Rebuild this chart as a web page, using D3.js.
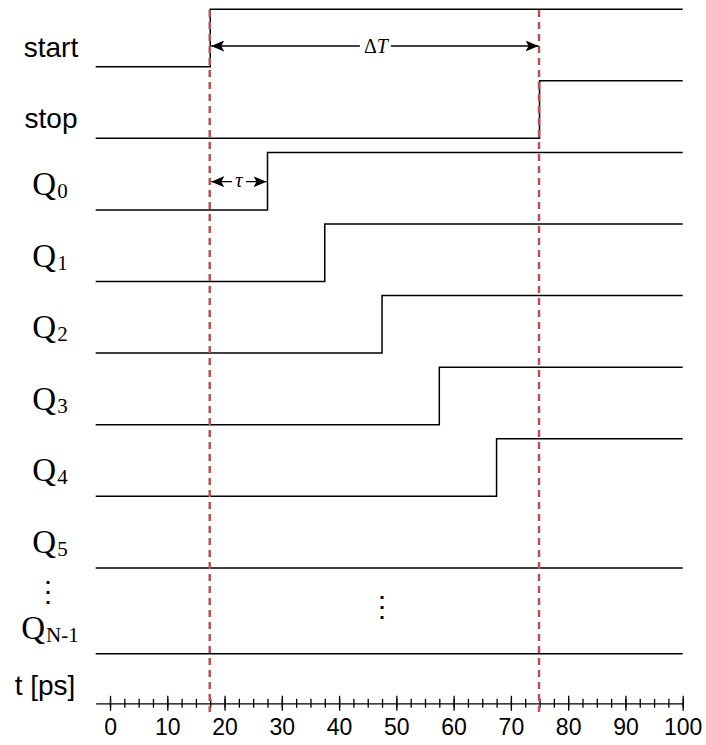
<!DOCTYPE html>
<html>
<head>
<meta charset="utf-8">
<script src="https://cdn.jsdelivr.net/npm/d3@7"></script>
<style>
  body { margin: 0; background: #fff; }
  .sig { fill: none; stroke: #000; stroke-width: 1.5; }
  .lbl-sans { font-family: Arial, "Liberation Sans", sans-serif; font-size: 28px; }
  .lbl-serif { font-family: "Liberation Serif", "DejaVu Serif", serif; font-size: 33px; }
  .axis text { font-family: Arial, "Liberation Sans", sans-serif; font-size: 23px; fill: #000; }
  .axis line, .axis path { stroke: #000; stroke-width: 1.3; }
</style>
</head>
<body>
<div class="chart"></div>
<script>
const W = 706, H = 745;

// signals, top to bottom
const signalNames = ["start", "stop", "Q", "Q", "Q", "Q", "Q", "Q", "Q"];
const signalSubs = ["", "", "0", "1", "2", "3", "4", "5", "N-1"];
// time (ps) of the rising edge; null = stays low
const edgeTimes = [17.5, 75, 27.5, 37.5, 47.5, 57.5, 67.5, null, null];
const startTime = 17.5;
const stopTime = 75;
const tau = 10;
const majorTicks = d3.range(0, 101, 10);
const minorTicks = d3.range(0, 100.1, 2.5);

const x = d3.scaleLinear().domain([-2.5, 100]).range([95.7, 682.7]);
// row index -> low level y; last row sits a bit further down
const rowIndex = [0, 1, 2, 3, 4, 5, 6, 7, 8.2];
const y = d3.scaleLinear().domain([0, 1]).range([66.7, 138.3]);
const highOffset = 57.5;

const svg = d3.select(".chart").append("svg")
  .attr("width", W).attr("height", H);

const defs = svg.append("defs");
["end", "start"].forEach(function(k) {
  defs.append("marker")
    .attr("id", "arrow-" + k)
    .attr("viewBox", "0 0 13 11")
    .attr("refX", k === "end" ? 13 : 0).attr("refY", 5.5)
    .attr("markerWidth", 13).attr("markerHeight", 11)
    .attr("markerUnits", "userSpaceOnUse")
    .attr("orient", "auto")
    .append("path")
    .attr("d", k === "end" ? "M0,0 L13,5.5 L0,11 L3,5.5 Z" : "M13,0 L0,5.5 L13,11 L10,5.5 Z")
    .attr("fill", "#000");
});

// waveforms
const rows = svg.append("g").selectAll("g")
  .data(signalNames.map(function(n, i) {
    return { name: n, sub: signalSubs[i], t: edgeTimes[i], yLow: y(rowIndex[i]) };
  }))
  .enter().append("g");

rows.append("path")
  .attr("class", "sig")
  .attr("d", function(d) {
    const p = d3.path();
    p.moveTo(x(-2.5), d.yLow);
    if (d.t === null) {
      p.lineTo(x(100), d.yLow);
    } else {
      p.lineTo(x(d.t), d.yLow);
      p.lineTo(x(d.t), d.yLow - highOffset);
      p.lineTo(x(100), d.yLow - highOffset);
    }
    return p.toString();
  });

// labels
rows.filter(function(d) { return d.sub === ""; })
  .append("text")
  .attr("class", "lbl-sans")
  .attr("x", 51).attr("y", function(d) { return d.yLow - 10; })
  .attr("text-anchor", "middle")
  .text(function(d) { return d.name; });

const qLbl = rows.filter(function(d) { return d.sub !== ""; })
  .append("text")
  .attr("class", "lbl-serif")
  .attr("x", 50).attr("y", function(d) { return d.yLow - 15; })
  .attr("text-anchor", "middle");
qLbl.append("tspan").text(function(d) { return d.name; });
qLbl.append("tspan")
  .attr("font-size", "21px")
  .attr("dx", 1)
  .attr("dy", 3)
  .text(function(d) { return d.sub; });

// vertical dots
svg.append("text").attr("class", "lbl-serif")
  .attr("x", 48).attr("y", 601).attr("text-anchor", "middle")
  .style("font-size", "28px").text("⋮");
svg.append("text").attr("class", "lbl-serif")
  .attr("x", x(47.5)).attr("y", 616).attr("text-anchor", "middle")
  .style("font-size", "28px").text("⋮");

// axis
svg.append("text").attr("class", "lbl-sans")
  .attr("x", 45).attr("y", 695).attr("text-anchor", "middle")
  .text("t [ps]");

const axisY = 703.3;
const gMinor = svg.append("g").attr("class", "axis")
  .attr("transform", "translate(0," + axisY + ")")
  .call(d3.axisBottom(x).tickValues(minorTicks).tickSize(4.5).tickSizeOuter(0).tickFormat(""));
gMinor.selectAll(".tick line").attr("y1", -4.5);

const gMajor = svg.append("g").attr("class", "axis")
  .attr("transform", "translate(0," + axisY + ")")
  .call(d3.axisBottom(x).tickValues(majorTicks).tickSize(7.5).tickSizeOuter(0).tickPadding(8));
gMajor.selectAll(".tick line").attr("y1", -7.5);
gMajor.select(".domain").remove();

// dashed markers for start / stop
svg.append("g").selectAll("line")
  .data([startTime, stopTime])
  .enter().append("line")
  .attr("x1", function(d) { return x(d) - 0.5; })
  .attr("x2", function(d) { return x(d) - 0.5; })
  .attr("y1", 10).attr("y2", 712)
  .attr("stroke", "#b85450")
  .attr("stroke-width", 2.5)
  .attr("stroke-dasharray", "7,5");

// ΔT arrow
svg.append("line")
  .attr("x1", x(startTime) + 1).attr("x2", x(stopTime) - 1)
  .attr("y1", 46).attr("y2", 46)
  .attr("stroke", "#000").attr("stroke-width", 1.3)
  .attr("marker-start", "url(#arrow-start)")
  .attr("marker-end", "url(#arrow-end)");
svg.append("rect")
  .attr("x", x((startTime + stopTime) / 2) - 15).attr("y", 34)
  .attr("width", 31).attr("height", 20).attr("fill", "#fff");
const dT = svg.append("text")
  .attr("x", x((startTime + stopTime) / 2) + 1).attr("y", 53)
  .attr("text-anchor", "middle")
  .style("font-family", "'Liberation Serif', serif").style("font-size", "20px");
dT.append("tspan").text("Δ");
dT.append("tspan").style("font-style", "italic").text("T");

// τ arrow
svg.append("line")
  .attr("x1", x(startTime) + 1).attr("x2", x(startTime + tau) - 1)
  .attr("y1", 181.7).attr("y2", 181.7)
  .attr("stroke", "#000").attr("stroke-width", 1.3)
  .attr("marker-start", "url(#arrow-start)")
  .attr("marker-end", "url(#arrow-end)");
svg.append("rect")
  .attr("x", x(startTime + tau / 2) - 7).attr("y", 172)
  .attr("width", 14).attr("height", 18).attr("fill", "#fff");
svg.append("text")
  .attr("x", x(startTime + tau / 2)).attr("y", 187)
  .attr("text-anchor", "middle")
  .style("font-family", "'Liberation Serif', serif").style("font-size", "20px")
  .style("font-style", "italic")
  .text("τ");
</script>
</body>
</html>
